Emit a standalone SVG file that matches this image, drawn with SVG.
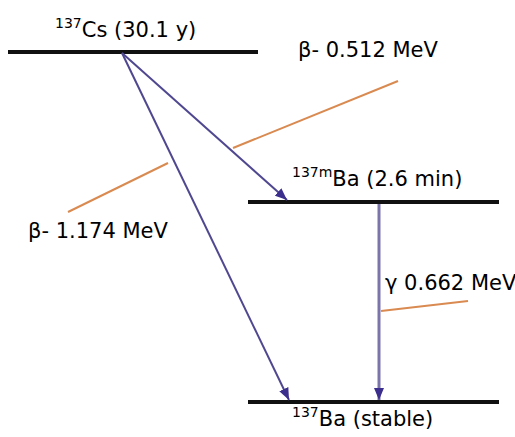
<svg xmlns="http://www.w3.org/2000/svg" width="515" height="437" viewBox="0 0 515 437">
<defs>
<style>
.level{stroke:#111;stroke-width:4;}
.arrow{stroke:#4f4890;stroke-width:2;fill:none;}
.gamma{stroke:#7a74ab;stroke-width:3;fill:none;}
.lead{stroke:#d98a50;stroke-width:2;fill:none;}
text{font-family:"DejaVu Sans",Verdana,sans-serif;font-size:21px;fill:#000;}
.sup{font-size:14px;}
</style>
<marker id="ah" viewBox="0 0 12 10" refX="12" refY="5" markerWidth="12" markerHeight="10" markerUnits="userSpaceOnUse" orient="auto">
<path d="M0,0 L12,5 L0,10 Z" fill="#3b2e8c"/>
</marker>
</defs>
<rect width="515" height="437" fill="#fff"/>
<g id="cs137">
<line class="level" x1="8" y1="52" x2="258" y2="52"/>
<text x="55" y="37"><tspan class="sup" dy="-9">137</tspan><tspan dy="9">Cs (30.1 y)</tspan></text>
</g>
<g id="ba137m">
<line class="level" x1="248" y1="202" x2="499" y2="202"/>
<text x="292" y="186"><tspan class="sup" dy="-9">137m</tspan><tspan dy="9">Ba (2.6 min)</tspan></text>
</g>
<g id="ba137">
<line class="level" x1="248" y1="402" x2="499" y2="402"/>
<text x="292" y="426"><tspan class="sup" dy="-9">137</tspan><tspan dy="9">Ba (stable)</tspan></text>
</g>
<g id="connectors">
<line class="arrow" x1="122" y1="53" x2="287" y2="200" marker-end="url(#ah)"/>
<line class="arrow" x1="122" y1="53" x2="289" y2="400" marker-end="url(#ah)"/>
<line class="gamma" x1="379" y1="204" x2="379" y2="400" marker-end="url(#ah)"/>
</g>
<g id="labels">
<line class="lead" x1="233" y1="148" x2="398" y2="81"/>
<text x="298" y="57">β- 0.512 MeV</text>
<line class="lead" x1="68" y1="212" x2="168" y2="163"/>
<text x="28" y="238">β- 1.174 MeV</text>
<line class="lead" x1="381" y1="311" x2="468" y2="301"/>
<text x="385" y="290">γ 0.662 MeV</text>
</g>
</svg>
